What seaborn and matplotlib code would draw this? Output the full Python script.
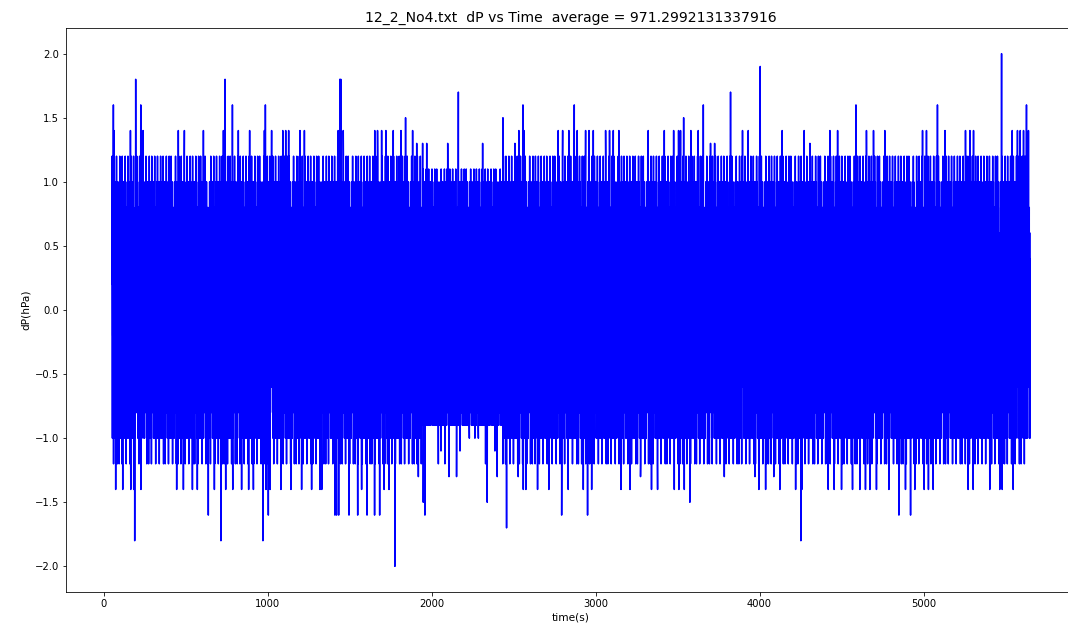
import numpy as np
import pandas as pd
import matplotlib
matplotlib.use("Agg")
import matplotlib.pyplot as plt
import seaborn as sns

# ---------------- data ----------------
t_first, t_last = 50, 5650          # recording span (s), 1 sample per second

# typical fluctuation of the baseline noise (hPa), repeated along the record
body_pattern = [
    0.2, 1.2, -0.4, -1.0, 0.6, -0.2,
    0.8, -0.6, 1.0, 0.0, -1.2, 0.4,
    -0.6, 0.6, -0.2, 0.8, -1.0, 0.2,
    0.4, -1.0, 0.6, -0.4, 1.0, -0.6,
    -0.2, 0.8, -0.8, 0.2, 1.2, -0.4,
    1.0, -0.4, 0.6, -1.2, 0.0, 0.4,
    -0.6, 1.0, -0.8, 0.2, -1.0, 0.6,
    0.8, -0.2, -1.2, 0.4, 0.6, -0.8,
    1.2, -0.6, 0.2, -1.0, 0.8, -0.4,
    -0.8, 0.4, 1.0, -0.2, -1.0, 0.6,
    0.2, -1.2, 0.6, 1.2, -0.6, -0.4,
    -0.8, 0.6, -0.2, 1.0, 0.0, -0.6,
    0.4, 1.0, -1.0, -0.4, 0.8, -0.6,
    -0.2, 0.6, -0.8, 1.2, -1.0, 0.2,
    0.8, -0.4, 0.4, -1.2, 0.6, -0.6,
    -0.6, 0.8, -1.0, 0.2, 1.0, -0.2,
    0.6, -0.8, 1.2, -0.6, -1.0, 0.4,
    -0.4, 1.0, 0.2, -0.8, 0.8, -0.6,
    1.0, -1.2, 0.0, 0.6, -0.4, 0.8,
    -1.0, 0.4, -0.6, 1.2, -0.2, 0.6,
    0.2, -0.6, 1.0, -1.0, 0.4, -0.2,
    -0.4, 0.8, -1.0, 0.6, -0.2, 0.4,
    1.2, -0.8, 0.2, -1.2, 0.6, -0.4,
    -0.2, 1.0, -0.6, 0.4, -1.0, 0.8,
    0.6, -1.2, 1.0, -0.4, 0.2, -0.8,
    -0.6, 0.4, 1.2, -0.8, 0.6, 0.0,
    1.0, -0.4, -1.0, 0.8, -0.6, 0.2,
    -0.8, 0.8, -0.2, -1.2, 0.6, 0.4,
    0.2, 1.2, -1.0, 0.4, -0.6, 0.6,
    -0.4, 0.6, -1.0, 1.0, -0.8, 0.2,
]

# quieter stretch (narrower band)
calm_start, calm_end = 1940, 2430
calm_hi, calm_lo = 1.1, -0.9

# positive excursions (time s, dP hPa)
upper_t = [59, 62, 163, 195, 226, 240, 455, 492, 541, 571, 608, 638, 730, 740,
           785, 821, 890, 980, 986, 1024, 1092, 1110, 1128, 1197, 1224, 1410,
           1430, 1440, 1446, 1461, 1496, 1549, 1573, 1606, 1653, 1670, 1695,
           1721, 1766, 1813, 1841, 1884, 1909, 1945, 1970, 2098, 2163, 2311,
           2435, 2457, 2508, 2532, 2557, 2563, 2772, 2799, 2837, 2870, 2888,
           2939, 2960, 2986, 3061, 3085, 3108, 3142, 3321, 3341, 3419, 3476,
           3506, 3518, 3537, 3581, 3626, 3657, 3701, 3726, 3823, 3896, 3931,
           4004, 4037, 4087, 4138, 4220, 4272, 4307, 4429, 4476, 4588, 4652,
           4695, 4764, 4890, 4994, 5018, 5085, 5131, 5256, 5283, 5305, 5476,
           5541, 5573, 5590, 5610, 5628, 5640]
upper_v = [1.6, 1.4, 1.4, 1.8, 1.6, 1.4, 1.4, 1.4, 1.4, 1.4, 1.4, 1.4, 1.4, 1.8,
           1.6, 1.4, 1.4, 1.4, 1.6, 1.4, 1.4, 1.4, 1.4, 1.4, 1.4, 1.4,
           1.4, 1.8, 1.8, 1.4, 1.4, 1.4, 1.4, 1.6, 1.4, 1.4, 1.4,
           1.4, 1.4, 1.4, 1.5, 1.4, 1.3, 1.3, 1.3, 1.3, 1.7, 1.3,
           1.5, 1.3, 1.3, 1.4, 1.6, 1.4, 1.4, 1.4, 1.4, 1.6, 1.4,
           1.4, 1.4, 1.4, 1.4, 1.4, 1.4, 1.4, 1.4, 1.4, 1.4, 1.4,
           1.4, 1.4, 1.5, 1.4, 1.4, 1.6, 1.3, 1.3, 1.7, 1.4, 1.4,
           1.9, 1.4, 1.5, 1.4, 1.4, 1.4, 1.3, 1.4, 1.4, 1.6, 1.4,
           1.4, 1.4, 1.4, 1.4, 1.4, 1.6, 1.4, 1.4, 1.4, 1.4, 2.0,
           1.4, 1.4, 1.4, 1.4, 1.6, 1.4]

# negative excursions (time s, dP hPa)
lower_t = [73, 116, 165, 183, 189, 227, 445, 486, 541, 571, 638, 675, 715, 744,
           787, 841, 884, 913, 971, 990, 1004, 1015, 1081, 1142, 1207, 1268,
           1319, 1330, 1410, 1420, 1433, 1496, 1549, 1573, 1606, 1652, 1683,
           1710, 1740, 1776, 1919, 1949, 1959, 2041, 2057, 2081, 2106, 2152,
           2173, 2230, 2264, 2285, 2329, 2339, 2386, 2400,
           2457, 2528, 2559, 2575, 2646, 2715, 2793, 2833, 2925, 2951, 2976,
           3155, 3210, 3274, 3341, 3378, 3480, 3508, 3541, 3575, 3785, 3972,
           3996, 4037, 4087, 4124, 4220, 4252, 4258, 4419, 4455, 4500, 4567,
           4612, 4646, 4673, 4713, 4789, 4850, 4890, 4921, 4947, 5004, 5030,
           5059, 5272, 5303, 5404, 5465, 5480, 5547]
lower_v = [-1.4, -1.4, -1.4, -1.4, -1.8, -1.4, -1.4, -1.4, -1.4, -1.4, -1.6, -1.4, -1.8, -1.4,
           -1.4, -1.4, -1.4, -1.4, -1.8, -1.4, -1.6, -1.4, -1.4, -1.4, -1.4, -1.4,
           -1.4, -1.4, -1.6, -1.6, -1.6, -1.6, -1.6, -1.4, -1.6, -1.6, -1.6,
           -1.4, -1.4, -2.0, -1.3, -1.5, -1.6, -1.2, -1.1, -1.2, -1.3, -1.3,
           -1.1, -1.0, -1.0, -1.0, -1.2, -1.5, -1.1, -1.3,
           -1.7, -1.3, -1.4, -1.4, -1.4, -1.4, -1.6, -1.4, -1.4, -1.6, -1.4,
           -1.4, -1.4, -1.3, -1.4, -1.4, -1.4, -1.4, -1.4, -1.5, -1.3, -1.3,
           -1.4, -1.4, -1.3, -1.4, -1.4, -1.8, -1.4, -1.4, -1.4, -1.4, -1.4,
           -1.4, -1.4, -1.4, -1.4, -1.4, -1.6, -1.4, -1.6, -1.4, -1.4, -1.4,
           -1.4, -1.4, -1.4, -1.4, -1.4, -1.4, -1.4]

title_text = "12_2_No4.txt  dP vs Time  average = 971.2992131337916"
x_label = "time(s)"
y_label = "dP(hPa)"

# ---------------- assemble the series ----------------
time = np.arange(t_first, t_last + 1)
dp = np.resize(np.array(body_pattern, dtype=float), time.size)
calm = (time >= calm_start) & (time <= calm_end)
dp[calm] = np.clip(dp[calm], calm_lo, calm_hi)
for tt, vv in zip(upper_t + lower_t, upper_v + lower_v):
    dp[tt - t_first] = vv
df = pd.DataFrame({"time": time, "dP": dp})

# ---------------- plot ----------------
sns.set_style("ticks")
plt.rcParams.update({
    "font.family": ["DejaVu Sans"],
    "axes.edgecolor": "black",
    "axes.linewidth": 0.8,
    "xtick.color": "black",
    "ytick.color": "black",
    "text.color": "black",
    "axes.labelcolor": "black",
})

W, H = 1068, 631
fig = plt.figure(figsize=(W / 72, H / 72), dpi=72)
ax = fig.add_axes([66 / W, 1 - 592 / H, (1076 - 66) / W, (592 - 28) / H])
sns.lineplot(data=df, x="time", y="dP", ax=ax, color="blue", linewidth=1.5,
             estimator=None, sort=False)
for side in ["top", "right"]:
    ax.spines[side].set_visible(True)
ax.set_title(title_text, fontsize=14)
ax.set_xlabel(x_label, fontsize=10.5)
ax.set_ylabel(y_label, fontsize=10.5)
ax.tick_params(labelsize=10, direction="out", length=3.5, width=0.8)
ax.margins(x=0.05, y=0.05)
fig.savefig("out.png", dpi=72)
